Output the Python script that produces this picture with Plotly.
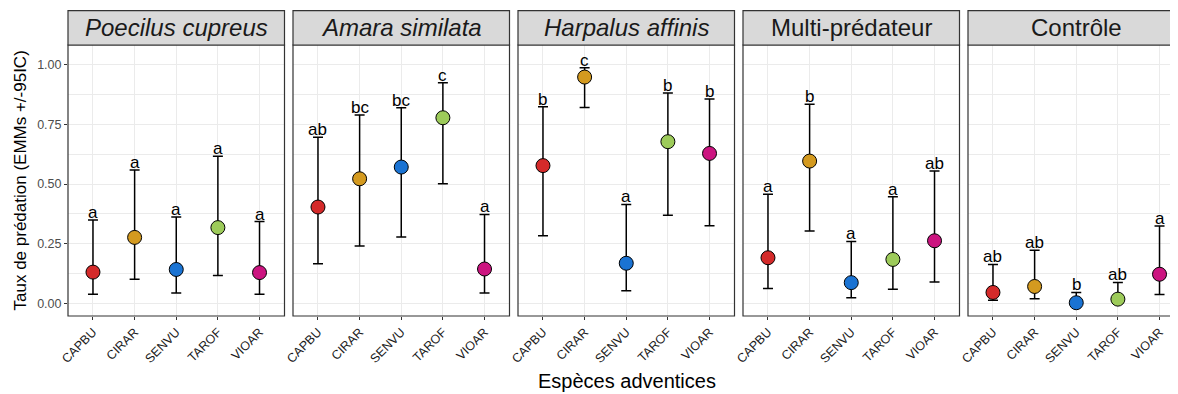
import plotly.graph_objects as go

species = ["CAPBU", "CIRAR", "SENVU", "TAROF", "VIOAR"]
species_colors = ["#D42A2A", "#D49A1F", "#1A73D3", "#9DCB5A", "#CC1480"]

panels = ["Poecilus cupreus", "Amara similata", "Harpalus affinis", "Multi-prédateur", "Contrôle"]
panel_italic = [True, True, True, False, False]

# Poecilus cupreus
poecilus_emm = [0.132, 0.277, 0.143, 0.318, 0.130]
poecilus_low = [0.040, 0.102, 0.045, 0.118, 0.040]
poecilus_up = [0.350, 0.559, 0.362, 0.616, 0.343]
poecilus_letters = ["a", "a", "a", "a", "a"]

# Amara similata
amara_emm = [0.404, 0.522, 0.571, 0.777, 0.145]
amara_low = [0.167, 0.241, 0.279, 0.501, 0.045]
amara_up = [0.696, 0.788, 0.819, 0.923, 0.373]
amara_letters = ["ab", "bc", "bc", "c", "a"]

# Harpalus affinis
harpalus_emm = [0.577, 0.947, 0.169, 0.677, 0.628]
harpalus_low = [0.284, 0.820, 0.054, 0.370, 0.326]
harpalus_up = [0.823, 0.986, 0.415, 0.880, 0.855]
harpalus_letters = ["b", "c", "a", "b", "b"]

# Multi-prédateur
multi_emm = [0.192, 0.596, 0.088, 0.185, 0.263]
multi_low = [0.063, 0.304, 0.025, 0.060, 0.091]
multi_up = [0.457, 0.833, 0.260, 0.447, 0.554]
multi_letters = ["a", "b", "a", "a", "ab"]

# Contrôle
controle_emm = [0.047, 0.072, 0.004, 0.019, 0.123]
controle_low = [0.014, 0.021, 0.000, 0.003, 0.038]
controle_up = [0.164, 0.223, 0.047, 0.089, 0.325]
controle_letters = ["ab", "ab", "b", "ab", "a"]

y_ticks = [0.0, 0.25, 0.5, 0.75, 1.0]
y_ticktext = ["0.00", "0.25", "0.50", "0.75", "1.00"]

emm_all = [poecilus_emm, amara_emm, harpalus_emm, multi_emm, controle_emm]
low_all = [poecilus_low, amara_low, harpalus_low, multi_low, controle_low]
up_all = [poecilus_up, amara_up, harpalus_up, multi_up, controle_up]
letters_all = [poecilus_letters, amara_letters, harpalus_letters, multi_letters, controle_letters]

# layout geometry (pixels); the page body adds an 8px offset
OFF = 8
W_FIG, H_FIG = 1178 - OFF, 394 - OFF
ML, MR, MT, MB = 68 - OFF, 0, 45 - OFF, 78
PW = W_FIG - ML - MR
PH = H_FIG - MT - MB
panel_step = 225.0
panel_w = 216.5
px_per_unit = panel_w / 5.2

fig = go.Figure()
font_family = "Liberation Sans, Arial, sans-serif"
shapes = []
annotations = []

for i, name in enumerate(panels):
    ax = "" if i == 0 else str(i + 1)
    xa = "x" + ax
    ya = "y" + ax
    left = panel_step * i
    right = min(left + panel_w, PW)
    d0, d1 = left / PW, right / PW
    xr_max = -0.6 + (right - left) / px_per_unit

    emm, lo, up = emm_all[i], low_all[i], up_all[i]
    fig.add_trace(go.Scatter(
        x=species, y=emm, xaxis=xa, yaxis=ya, mode="markers",
        marker=dict(size=14, color=species_colors, line=dict(color="black", width=1)),
        error_y=dict(type="data", symmetric=False,
                     array=[u - e for u, e in zip(up, emm)],
                     arrayminus=[e - l for e, l in zip(emm, lo)],
                     color="black", thickness=1.5, width=5),
        showlegend=False, hoverinfo="skip",
    ))
    for s, u, lab in zip(species, up, letters_all[i]):
        annotations.append(dict(x=s, y=u, xref=xa, yref=ya, text=lab, showarrow=False,
                                yanchor="bottom", xanchor="center", yshift=-4,
                                font=dict(size=17, color="black", family=font_family)))

    xkey = "xaxis" if i == 0 else "xaxis" + str(i + 1)
    ykey = "yaxis" if i == 0 else "yaxis" + str(i + 1)
    fig.layout[xkey] = dict(
        domain=[d0, d1], anchor=ya, type="category", categoryorder="array",
        categoryarray=species, range=[-0.6, xr_max],
        showgrid=True, gridcolor="#EBEBEB", gridwidth=1, zeroline=False,
        ticks="outside", ticklen=3, tickcolor="#333333", tickwidth=1,
        tickangle=-45, tickfont=dict(size=12.5, color="#1A1A1A", family=font_family),
        showline=False, fixedrange=True,
    )
    fig.layout[ykey] = dict(
        domain=[0, 1], anchor=xa, range=[-0.0514, 1.081],
        tickvals=y_ticks, ticktext=y_ticktext,
        showgrid=True, gridcolor="#EBEBEB", gridwidth=1, zeroline=False,
        minor=dict(tickvals=[0.125, 0.375, 0.625, 0.875], showgrid=True,
                   gridcolor="#EBEBEB", gridwidth=0.6, ticks=""),
        showticklabels=(i == 0),
        ticks="outside" if i == 0 else "", ticklen=3, tickcolor="#333333", tickwidth=1,
        tickfont=dict(size=12.5, color="#4D4D4D", family=font_family),
        showline=False, fixedrange=True,
    )
    if i > 0:
        fig.layout[ykey]["matches"] = "y"

    # panel border
    shapes.append(dict(type="rect", xref="paper", yref="paper", x0=d0, x1=(left + panel_w) / PW,
                       y0=0, y1=1, line=dict(color="#333333", width=1.2),
                       fillcolor="rgba(0,0,0,0)", layer="above"))
    # strip
    strip_top = 1 + (45 - 10.7) / PH
    shapes.append(dict(type="rect", xref="paper", yref="paper", x0=d0, x1=(left + panel_w) / PW,
                       y0=1, y1=strip_top, line=dict(color="#333333", width=1.2),
                       fillcolor="#D9D9D9", layer="above"))
    label = f"<i>{name}</i>" if panel_italic[i] else name
    annotations.append(dict(x=(left + panel_w / 2) / PW, y=(1 + strip_top) / 2,
                            xref="paper", yref="paper", text=label, showarrow=False,
                            xanchor="center", yanchor="middle",
                            font=dict(size=24, color="#1A1A1A", family=font_family)))

# axis titles (positions given in page pixels)
annotations.append(dict(x=(20 - 68) / PW, y=0.5, xref="paper", yref="paper",
                        text="Taux de prédation (EMMs +/-95IC)", textangle=-90, showarrow=False,
                        xanchor="center", yanchor="middle",
                        font=dict(size=17, color="black", family=font_family)))
annotations.append(dict(x=(627 - 68) / PW, y=-(381 - 316) / PH, xref="paper", yref="paper",
                        text="Espèces adventices", showarrow=False,
                        xanchor="center", yanchor="middle",
                        font=dict(size=20, color="black", family=font_family)))

fig.update_layout(
    width=W_FIG, height=H_FIG,
    margin=dict(l=ML, r=MR, t=MT, b=MB, autoexpand=False),
    plot_bgcolor="white", paper_bgcolor="white",
    shapes=shapes, annotations=annotations,
    template="none", showlegend=False,
    font=dict(family=font_family),
)

fig.write_html("out.html", config={"displayModeBar": False})
